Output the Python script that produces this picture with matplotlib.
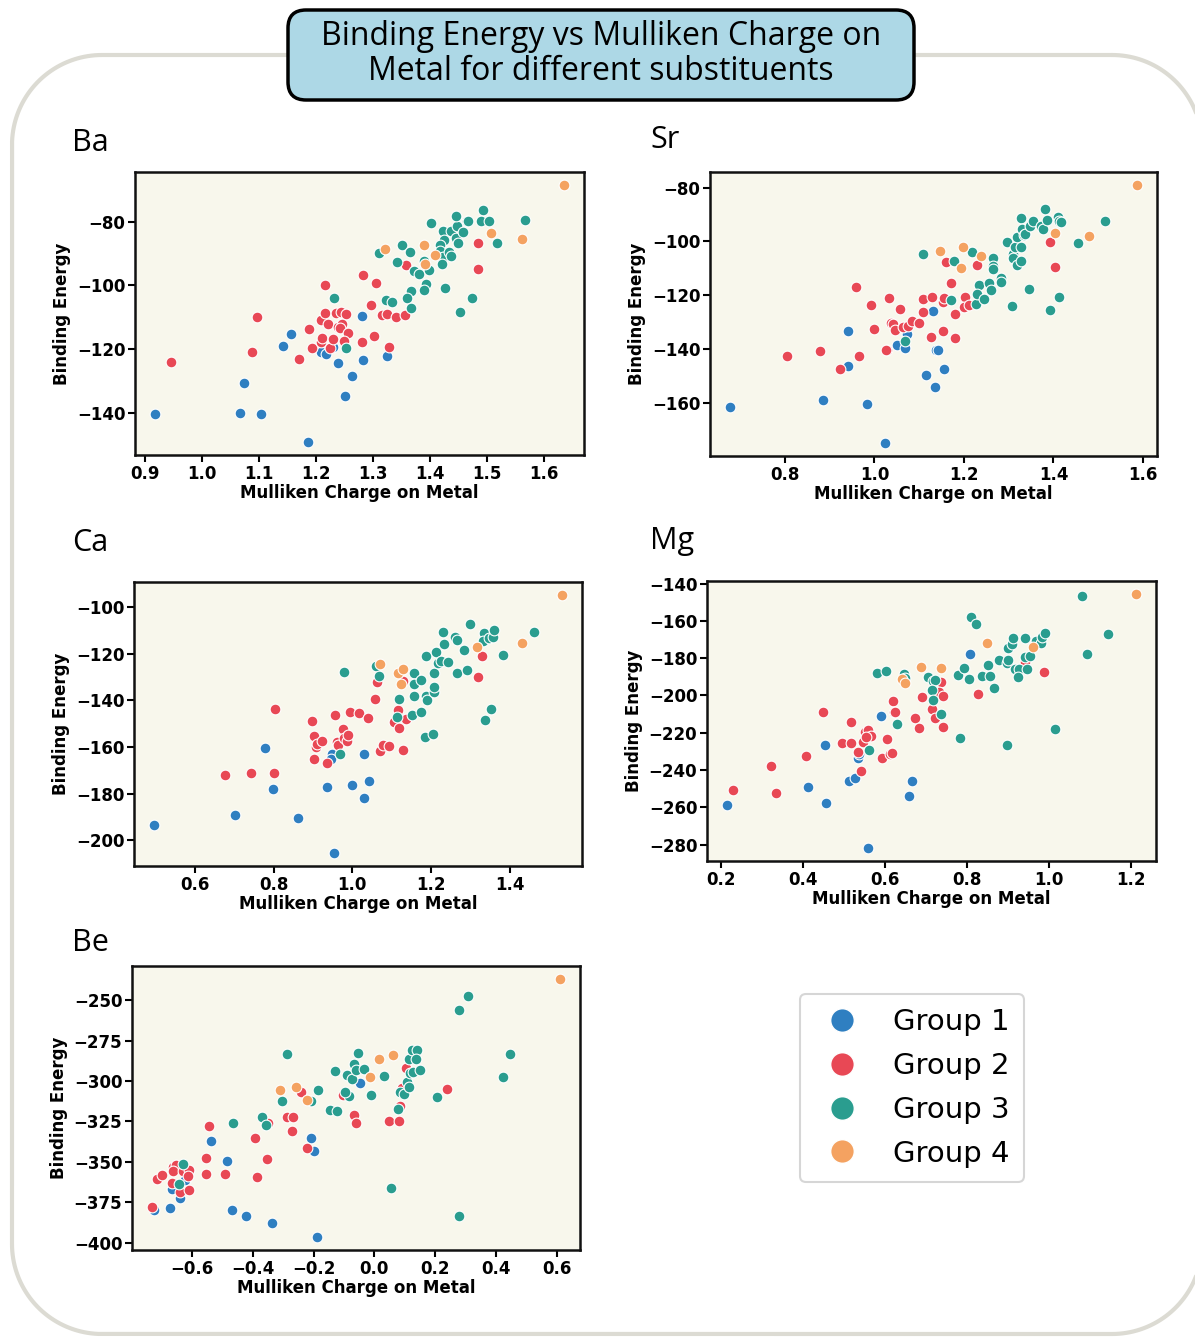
import matplotlib
matplotlib.use("Agg")
import numpy as np
import matplotlib.pyplot as plt
from matplotlib.patches import FancyBboxPatch
from matplotlib.lines import Line2D

# colours of the four substituent groups
group_names = ["Group 1", "Group 2", "Group 3", "Group 4"]
group_colors = ["#2f7fc1", "#e84855", "#2a9d8f", "#f4a261"]

# (Mulliken charge, binding energy), one list per group
ba_g1 = [(0.918, -140.4), (1.066, -140.1), (1.104, -140.3), (1.073, -130.6), (1.186, -149.3), (1.141, -119.1),
         (1.156, -115.4), (1.208, -120.8), (1.217, -121.7), (1.239, -124.4), (1.250, -134.9), (1.263, -128.4),
         (1.281, -109.6), (1.282, -123.5), (1.324, -122.2), (1.229, -119.5)]
ba_g2 = [(0.946, -124.2), (1.097, -109.8), (1.087, -120.8), (1.169, -123.1), (1.188, -113.7), (1.192, -119.7),
         (1.209, -110.8), (1.215, -99.9), (1.216, -108.8), (1.220, -112.2), (1.209, -117.9), (1.211, -116.4),
         (1.225, -119.8), (1.229, -116.9), (1.235, -108.6), (1.244, -108.5), (1.253, -109.0), (1.239, -113.2),
         (1.245, -112.2), (1.242, -113.5), (1.256, -115.1), (1.249, -117.6), (1.282, -96.8), (1.305, -99.4),
         (1.296, -106.3), (1.280, -117.7), (1.302, -115.8), (1.315, -109.2), (1.324, -109.0), (1.340, -110.0),
         (1.355, -109.4), (1.357, -93.6), (1.327, -119.5), (1.484, -86.6), (1.484, -95.0)]
ba_g3 = [(1.232, -104.0), (1.252, -119.7), (1.310, -89.7), (1.351, -87.3), (1.365, -89.5), (1.341, -92.6),
         (1.371, -95.6), (1.381, -96.3), (1.389, -92.4), (1.398, -95.2), (1.392, -99.6), (1.389, -101.5),
         (1.367, -101.9), (1.360, -104.1), (1.367, -107.1), (1.323, -104.5), (1.333, -105.3), (1.401, -80.3),
         (1.422, -83.0), (1.436, -83.0), (1.424, -85.7), (1.418, -87.2), (1.417, -89.3), (1.422, -91.2),
         (1.421, -93.2), (1.433, -89.4), (1.436, -90.8), (1.426, -100.7), (1.445, -85.2), (1.449, -86.8),
         (1.447, -81.4), (1.457, -83.1), (1.446, -78.3), (1.464, -79.9), (1.466, -79.7), (1.493, -76.3),
         (1.490, -79.7), (1.503, -79.7), (1.517, -86.6), (1.567, -79.4), (1.473, -104.0), (1.453, -108.4)]
ba_g4 = [(1.321, -88.7), (1.389, -87.2), (1.409, -90.4), (1.391, -93.4), (1.507, -83.6), (1.561, -85.3),
         (1.634, -68.4)]

sr_g1 = [(0.678, -161.6), (0.885, -158.9), (0.942, -133.4), (0.940, -146.4), (0.983, -160.6), (1.024, -175.0),
         (1.050, -138.6), (1.069, -139.6), (1.073, -134.5), (1.115, -149.8), (1.130, -125.7), (1.135, -154.1),
         (1.138, -140.2), (1.141, -140.4), (1.155, -147.3)]
sr_g2 = [(0.804, -142.7), (0.879, -140.9), (0.924, -147.3), (0.965, -142.6), (0.958, -117.1), (0.992, -123.8),
         (0.998, -132.4), (1.033, -120.9), (1.027, -140.2), (1.026, -140.4), (1.036, -130.5), (1.041, -130.7),
         (1.045, -132.8), (1.058, -125.2), (1.064, -131.9), (1.076, -131.3), (1.083, -129.6), (1.100, -130.5),
         (1.109, -121.6), (1.109, -126.3), (1.129, -120.7), (1.127, -135.6), (1.154, -122.5), (1.156, -120.9),
         (1.154, -133.5), (1.159, -107.8), (1.171, -115.3), (1.179, -126.9), (1.181, -136.1), (1.203, -120.5),
         (1.200, -124.5), (1.211, -123.6), (1.229, -108.7), (1.393, -100.1), (1.404, -109.7)]
sr_g3 = [(1.069, -136.9), (1.108, -104.6), (1.172, -121.9), (1.177, -107.4), (1.217, -104.0), (1.226, -123.1),
         (1.233, -116.3), (1.229, -119.4), (1.244, -121.6), (1.255, -115.5), (1.261, -117.9), (1.264, -106.2),
         (1.264, -109.1), (1.265, -110.2), (1.283, -113.7), (1.283, -115.0), (1.296, -100.2), (1.308, -124.2),
         (1.309, -104.7), (1.309, -106.3), (1.314, -102.0), (1.319, -98.5), (1.319, -108.7), (1.328, -91.3),
         (1.328, -102.1), (1.328, -107.2), (1.330, -95.3), (1.335, -97.8), (1.337, -97.3), (1.346, -117.6),
         (1.348, -94.2), (1.354, -92.5), (1.372, -94.2), (1.377, -95.4), (1.381, -87.9), (1.386, -92.2),
         (1.392, -125.5), (1.411, -90.8), (1.413, -92.3), (1.416, -92.8), (1.412, -120.7), (1.454, -100.5),
         (1.515, -92.3)]
sr_g4 = [(1.147, -103.6), (1.197, -102.0), (1.239, -105.3), (1.194, -109.8), (1.403, -97.0), (1.479, -97.9),
         (1.586, -79.0)]

ca_g1 = [(0.497, -193.4), (0.703, -189.0), (0.778, -160.4), (0.799, -177.8), (0.861, -190.4), (0.935, -177.1),
         (0.948, -162.9), (0.945, -165.0), (0.953, -205.5), (1.000, -176.1), (1.031, -163.1), (1.031, -181.7),
         (1.042, -174.5)]
ca_g2 = [(0.677, -172.2), (0.742, -171.0), (0.802, -171.0), (0.803, -143.8), (0.897, -148.6), (0.902, -155.4),
         (0.902, -165.3), (0.907, -160.1), (0.911, -158.5), (0.922, -157.3), (0.935, -166.9), (0.956, -146.4),
         (0.960, -157.7), (0.964, -159.3), (0.977, -152.4), (0.980, -156.1), (0.986, -157.3), (0.989, -154.7),
         (0.994, -145.1), (1.017, -145.3), (1.040, -147.5), (1.057, -139.3), (1.062, -132.0), (1.071, -161.7),
         (1.077, -159.1), (1.093, -159.7), (1.106, -149.2), (1.115, -143.9), (1.119, -151.8), (1.130, -131.7),
         (1.130, -161.4), (1.136, -147.9), (1.319, -130.1), (1.329, -121.0)]
ca_g3 = [(0.969, -162.9), (0.979, -127.6), (1.059, -125.1), (1.069, -129.3), (1.114, -146.9), (1.119, -139.2),
         (1.153, -146.2), (1.158, -128.0), (1.158, -132.9), (1.158, -138.0), (1.175, -131.1), (1.175, -144.9),
         (1.187, -121.0), (1.187, -138.0), (1.191, -139.7), (1.186, -155.7), (1.206, -154.2), (1.208, -128.4),
         (1.208, -136.3), (1.208, -134.3), (1.213, -119.2), (1.219, -123.8), (1.225, -123.1), (1.231, -110.5),
         (1.233, -115.9), (1.242, -123.4), (1.262, -112.9), (1.267, -114.1), (1.265, -128.4), (1.283, -118.2),
         (1.292, -127.0), (1.300, -107.3), (1.335, -111.2), (1.333, -114.5), (1.337, -148.2), (1.347, -113.3),
         (1.358, -112.6), (1.360, -109.8), (1.353, -143.5), (1.383, -120.5), (1.462, -110.8)]
ca_g4 = [(1.070, -124.3), (1.115, -128.0), (1.130, -126.7), (1.125, -132.9), (1.318, -117.2), (1.432, -115.5),
         (1.532, -94.7)]

mg_g1 = [(0.215, -258.6), (0.411, -249.3), (0.453, -226.8), (0.456, -257.9), (0.512, -246.1), (0.527, -244.1),
         (0.533, -233.4), (0.537, -231.4), (0.558, -282.0), (0.589, -211.1), (0.658, -253.7), (0.667, -246.1),
         (0.807, -177.9)]
mg_g2 = [(0.229, -250.9), (0.322, -237.7), (0.333, -252.1), (0.407, -232.3), (0.448, -208.8), (0.496, -225.7),
         (0.518, -214.1), (0.518, -225.7), (0.535, -230.5), (0.541, -240.5), (0.547, -225.2), (0.551, -219.6),
         (0.559, -218.6), (0.566, -221.6), (0.553, -222.5), (0.593, -233.8), (0.605, -223.4), (0.612, -231.4),
         (0.618, -230.9), (0.620, -203.2), (0.623, -209.1), (0.624, -208.8), (0.672, -212.0), (0.684, -217.3),
         (0.691, -200.9), (0.714, -207.3), (0.722, -212.3), (0.737, -193.0), (0.731, -198.4), (0.741, -200.4),
         (0.741, -216.8), (0.828, -199.1), (0.943, -181.8), (0.989, -187.3)]
mg_g3 = [(0.562, -229.5), (0.581, -187.7), (0.603, -187.1), (0.629, -215.4), (0.646, -188.6), (0.649, -190.4),
         (0.706, -190.0), (0.716, -192.1), (0.722, -191.8), (0.715, -197.0), (0.716, -202.3), (0.736, -210.0),
         (0.778, -188.9), (0.782, -223.0), (0.792, -185.5), (0.806, -191.1), (0.809, -157.7), (0.821, -161.6),
         (0.836, -189.8), (0.851, -183.9), (0.856, -189.3), (0.866, -196.1), (0.878, -180.9), (0.897, -182.5),
         (0.901, -180.9), (0.898, -226.6), (0.900, -174.3), (0.910, -172.5), (0.912, -168.9), (0.918, -185.7),
         (0.927, -185.7), (0.925, -190.0), (0.943, -169.1), (0.941, -179.1), (0.947, -185.7), (0.953, -178.6),
         (0.969, -170.9), (0.981, -172.1), (0.984, -168.6), (0.990, -166.4), (1.014, -217.9), (1.082, -146.6),
         (1.094, -178.0), (1.144, -167.1)]
mg_g4 = [(0.642, -191.3), (0.649, -193.2), (0.688, -184.5), (0.737, -185.0), (0.849, -172.0), (0.961, -174.1),
         (1.212, -145.4)]

be_g1 = [(-0.725, -379.5), (-0.672, -378.3), (-0.663, -366.5), (-0.639, -372.3), (-0.617, -360.3), (-0.622, -361.4),
         (-0.538, -336.8), (-0.483, -349.4), (-0.466, -379.5), (-0.422, -383.7), (-0.335, -387.6), (-0.209, -334.9),
         (-0.199, -343.4), (-0.187, -396.5), (-0.049, -301.0)]
be_g2 = [(-0.729, -377.9), (-0.713, -360.7), (-0.699, -357.8), (-0.663, -362.8), (-0.660, -353.1), (-0.650, -351.6),
         (-0.660, -355.6), (-0.639, -368.6), (-0.628, -355.6), (-0.609, -355.2), (-0.608, -367.1), (-0.612, -358.9),
         (-0.552, -347.7), (-0.552, -357.4), (-0.542, -327.7), (-0.489, -357.4), (-0.391, -334.9), (-0.387, -359.3),
         (-0.353, -348.5), (-0.348, -326.0), (-0.286, -322.5), (-0.267, -322.5), (-0.270, -330.8), (-0.242, -306.6),
         (-0.221, -341.7), (-0.104, -308.5), (-0.067, -320.9), (-0.059, -326.0), (0.047, -325.0), (0.082, -325.0),
         (0.084, -315.3), (0.090, -304.1), (0.102, -292.1), (0.239, -305.0)]
be_g3 = [(-0.641, -363.8), (-0.630, -351.0), (-0.465, -325.8), (-0.369, -322.3), (-0.357, -327.1), (-0.304, -312.4),
         (-0.288, -283.5), (-0.207, -312.4), (-0.186, -305.4), (-0.145, -317.8), (-0.122, -318.2), (-0.128, -293.6),
         (-0.089, -296.5), (-0.085, -309.3), (-0.096, -306.8), (-0.072, -298.6), (-0.066, -289.5), (-0.053, -282.8),
         (-0.060, -293.0), (-0.034, -292.6), (-0.012, -308.5), (0.032, -297.1), (0.054, -365.9), (0.077, -317.4),
         (0.084, -307.0), (0.098, -308.1), (0.107, -300.6), (0.115, -303.5), (0.113, -286.4), (0.124, -280.6),
         (0.141, -281.0), (0.137, -286.6), (0.117, -294.8), (0.128, -294.4), (0.148, -293.2), (0.207, -309.9),
         (0.277, -256.2), (0.306, -247.3), (0.277, -383.3), (0.421, -297.7), (0.445, -283.3)]
be_g4 = [(-0.309, -305.8), (-0.258, -303.5), (-0.220, -311.6), (-0.016, -297.5), (0.016, -286.4), (0.060, -284.1),
         (0.608, -236.8)]

metals = ["Ba", "Sr", "Ca", "Mg", "Be"]
metal_data = {"Ba": [ba_g1, ba_g2, ba_g3, ba_g4],
              "Sr": [sr_g1, sr_g2, sr_g3, sr_g4],
              "Ca": [ca_g1, ca_g2, ca_g3, ca_g4],
              "Mg": [mg_g1, mg_g2, mg_g3, mg_g4],
              "Be": [be_g1, be_g2, be_g3, be_g4]}

W, H = 1195, 1337
fig = plt.figure(figsize=(W / 100, H / 100), dpi=100)

# background axes in pixel units, used for the decorative frame
bg = fig.add_axes([0, 0, 1, 1], zorder=-1)
bg.set_xlim(0, W)
bg.set_ylim(H, 0)
bg.axis("off")


def rounded_outline(x0, y0, x1, y1, r, n=40):
    # corner centres and angle ranges, y axis pointing down
    corners = [((x1 - r, y0 + r), -90, 0), ((x1 - r, y1 - r), 0, 90),
               ((x0 + r, y1 - r), 90, 180), ((x0 + r, y0 + r), 180, 270)]
    px, py = [], []
    for (cx, cy), a0, a1 in corners:
        t = np.radians(np.linspace(a0, a1, n))
        px.extend(cx + r * np.cos(t))
        py.extend(cy + r * np.sin(t))
    px.append(px[0])
    py.append(py[0])
    return px, py


fx, fy = rounded_outline(12, 55, 1202, 1334, 90)
bg.plot(fx, fy, color="#dcdbd3", linewidth=3, solid_capstyle="round")

# axes boxes in pixels: left, top, right, bottom
ax_boxes = {"Ba": (135, 172, 584, 455),
            "Sr": (710, 172, 1157, 456),
            "Ca": (134, 582, 582, 866),
            "Mg": (707, 581, 1156, 861),
            "Be": (132, 966, 580, 1250)}
label_pos = {"Ba": (72, 143), "Sr": (650, 140), "Ca": (72, 543), "Mg": (650, 541), "Be": (72, 943)}

for m in metals:
    l, t, r, b = ax_boxes[m]
    ax = fig.add_axes([l / W, 1 - b / H, (r - l) / W, (b - t) / H])
    ax.set_facecolor("#f8f7ec")
    for grp, col in zip(metal_data[m], group_colors):
        xs = [p[0] for p in grp]
        ys = [p[1] for p in grp]
        ax.scatter(xs, ys, s=60, color=col, edgecolor="white", linewidth=0.8, zorder=3)
    ax.set_xlabel("Mulliken Charge on Metal", fontsize=12, fontweight="bold", labelpad=1)
    ax.set_ylabel("Binding Energy", fontsize=12, fontweight="bold", labelpad=4)
    for s in ax.spines.values():
        s.set_linewidth(1.8)
        s.set_color("#111111")
    ax.tick_params(labelsize=12, width=1.5, length=5, pad=2)
    for lab in ax.get_xticklabels() + ax.get_yticklabels():
        lab.set_fontweight("bold")
    lx, ly = label_pos[m]
    fig.text(lx / W, 1 - ly / H, m, fontsize=22, family="Open Sans", ha="left", va="center")

# title box
title_box = FancyBboxPatch((288, 10), 626, 90, boxstyle="round,pad=0,rounding_size=18",
                           facecolor="#add8e6", edgecolor="black", linewidth=2.5, zorder=2)
bg.add_patch(title_box)
fig.text(601 / W, 1 - 54 / H, "Binding Energy vs Mulliken Charge on\nMetal for different substituents",
         fontsize=23, family="Open Sans", ha="center", va="center", linespacing=1.1, zorder=3)

handles = [Line2D([], [], marker="o", linestyle="", markersize=17, markerfacecolor=c,
                  markeredgecolor="white", markeredgewidth=1) for c in group_colors]
leg = fig.legend(handles, group_names, loc="center", bbox_to_anchor=(912 / W, 1 - 1088 / H),
                 fontsize=21, frameon=True, handletextpad=0.8, labelspacing=0.54, borderpad=0.5,
                 handlelength=1.9, borderaxespad=0)
leg.get_frame().set_edgecolor("#cccccc")
leg.get_frame().set_linewidth(1.5)

fig.savefig("out.png", dpi=100)
